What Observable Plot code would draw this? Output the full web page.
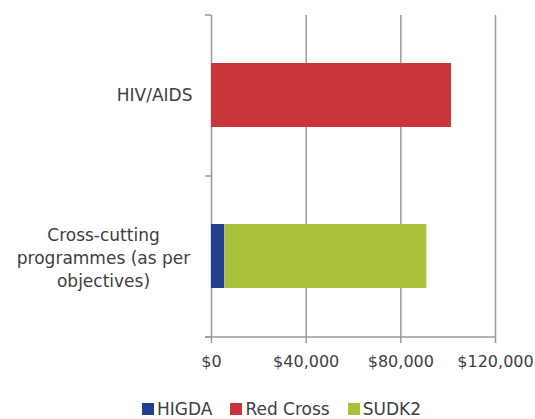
<!DOCTYPE html>
<html>
<head>
<meta charset="utf-8">
<script src="https://cdn.jsdelivr.net/npm/d3@7"></script>
<script src="https://cdn.jsdelivr.net/npm/@observablehq/plot@0.6"></script>
<style>
  html, body { margin: 0; padding: 0; background: #fff; }
  #wrap { position: relative; width: 535px; height: 419px; font-family: "DejaVu Sans", sans-serif; color: #404040; }
  #legend { position: absolute; left: 0; top: 399px; width: 535px; display: flex; justify-content: center; align-items: center; font-size: 17px; padding-left: 28px; box-sizing: border-box; }
  .item { display: flex; align-items: center; margin: 0 9px; }
  .sw { width: 12px; height: 12px; margin-right: 3px; }
</style>
</head>
<body>
<div id="wrap"><div id="chart"></div><div id="legend"></div></div>
<script>
const categories = ["HIV/AIDS", "Cross-cutting programmes (as per objectives)"];
const categoryLabels = ["HIV/AIDS", "Cross-cutting\nprogrammes (as per\nobjectives)"];
const funders = ["HIGDA", "Red Cross", "SUDK2"];
const higda = [0, 5600];
const redCross = [101400, 0];
const sudk2 = [0, 85400];
const xTicks = [0, 40000, 80000, 120000];
const colors = ["#243f8e", "#c8353a", "#a9c03b"];

const seriesValues = [higda, redCross, sudk2];
const rows = [];
funders.forEach((f, i) => categories.forEach((c, j) => {
  if (seriesValues[i][j] > 0) rows.push({category: c, funder: f, value: seriesValues[i][j]});
}));
const labelRows = categories.map((c, i) => ({category: c, label: categoryLabels[i], multi: categoryLabels[i].includes("\n")}));

const axisColor = "#9a9a9a";

const chart = Plot.plot({
  width: 535,
  height: 385,
  marginLeft: 211,
  marginRight: 40,
  marginTop: 15,
  marginBottom: 48,
  style: {fontFamily: "DejaVu Sans, sans-serif", fontSize: "16px", color: "#404040", background: "#fff"},
  x: {domain: [0, 120000], axis: null},
  y: {domain: categories, paddingInner: 0.6, paddingOuter: 0.3, axis: null},
  color: {domain: funders, range: colors},
  marks: [
    Plot.ruleX(xTicks, {stroke: axisColor, strokeWidth: 1.5}),
    Plot.barX(rows, Plot.stackX({x: "value", y: "category", fill: "funder", order: funders})),
    Plot.axisX(xTicks, {label: null, tickSize: 6, tickPadding: 12, tickFormat: d => "$" + d3.format(",")(d), stroke: axisColor, strokeWidth: 1.5, fill: "#404040", fontSize: 16}),
    Plot.text(labelRows.filter(d => !d.multi), {y: "category", text: "label", frameAnchor: "left", textAnchor: "end", dx: -19, fill: "#404040", fontSize: 17}),
    Plot.text(labelRows.filter(d => d.multi), {y: "category", text: "label", frameAnchor: "left", textAnchor: "middle", dx: -108, lineHeight: 1.38, fill: "#404040", fontSize: 17}),
    (index, scales, values, dims) => {
      const top = dims.marginTop;
      const bottom = dims.height - dims.marginBottom;
      const left = dims.marginLeft;
      const right = dims.width - dims.marginRight;
      const g = d3.create("svg:g").attr("stroke", axisColor).attr("stroke-width", 1.5);
      const edges = [top, (top + bottom) / 2, bottom];
      edges.forEach(y => g.append("line").attr("x1", left - 6).attr("x2", left).attr("y1", y).attr("y2", y));
      g.append("line").attr("x1", left - 6).attr("x2", right).attr("y1", bottom).attr("y2", bottom);
      return g.node();
    }
  ]
});
document.getElementById("chart").appendChild(chart);

const legend = document.getElementById("legend");
funders.forEach((f, i) => {
  const it = document.createElement("div");
  it.className = "item";
  it.innerHTML = `<span class="sw" style="background:${colors[i]}"></span><span>${f}</span>`;
  legend.appendChild(it);
});
</script>
</body>
</html>
